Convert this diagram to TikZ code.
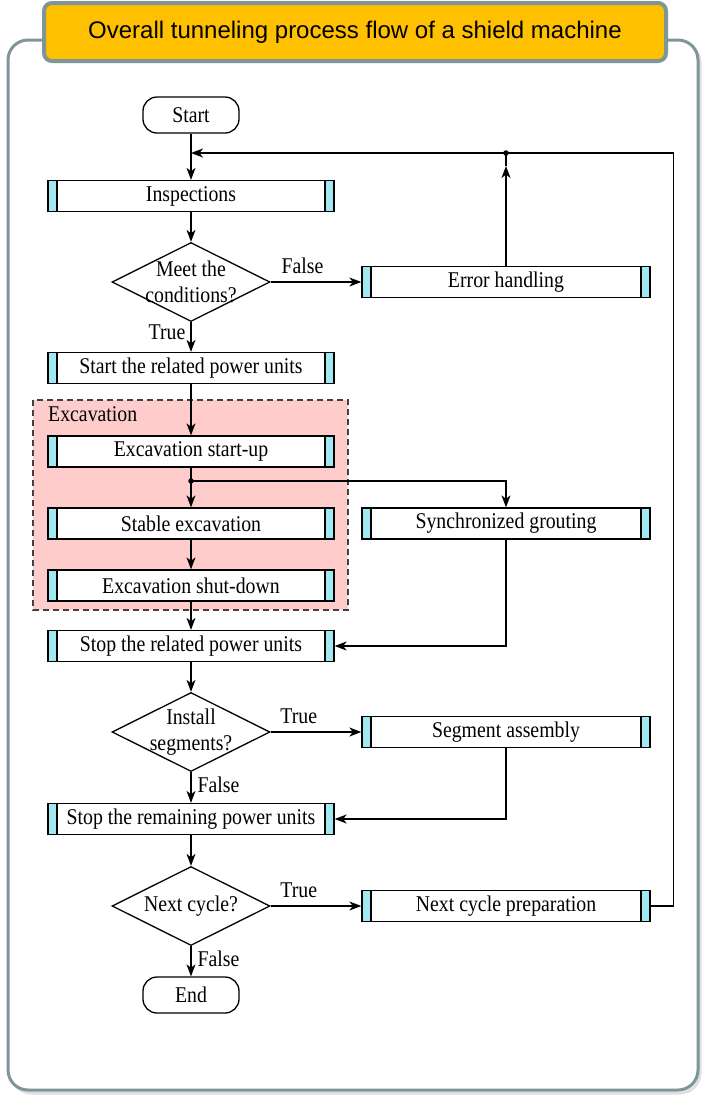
\documentclass[tikz,border=0pt]{standalone}
\usepackage{fontspec}
\setmainfont{Liberation Serif}[FakeStretch=0.88]
\newfontfamily\titlefont{Liberation Sans}
\usetikzlibrary{shapes.geometric,arrows.meta,calc}
\definecolor{framegray}{RGB}{126,150,151}
\definecolor{titleamber}{RGB}{255,192,0}
\definecolor{barcyan}{RGB}{160,232,242}
\definecolor{excpink}{RGB}{255,204,204}
\tikzset{
  txt/.style={font=\fontsize{22.5}{26}\selectfont},
  proc/.style={txt, rectangle, draw, line width=1.3pt, fill=white, inner sep=0pt,
    minimum height=31pt,
    path picture={
      \fill[barcyan] (path picture bounding box.north west) rectangle ([xshift=9pt]path picture bounding box.south west);
      \fill[barcyan] (path picture bounding box.north east) rectangle ([xshift=-9pt]path picture bounding box.south east);
      \draw[line width=1.3pt] ([xshift=9pt]path picture bounding box.north west) -- ([xshift=9pt]path picture bounding box.south west);
      \draw[line width=1.3pt] ([xshift=-9pt]path picture bounding box.north east) -- ([xshift=-9pt]path picture bounding box.south east);
    }},
  mainproc/.style={proc, minimum width=286pt},
  sideproc/.style={proc, minimum width=288pt},
  term/.style={txt, rectangle, rounded corners=14pt, draw, line width=1.3pt, fill=white,
    minimum width=96pt, minimum height=36pt, inner sep=0pt},
  dia/.style={diamond, draw, line width=1.3pt, fill=white, aspect=2, inner sep=0pt,
    minimum width=158pt, minimum height=79pt},
  arr/.style={line width=1.3pt, -{Stealth[length=12pt,width=9pt,inset=3.5pt]}},
  ln/.style={line width=1.3pt},
  lbl/.style={txt, inner sep=0pt},
  jdot/.style={circle, fill=black, inner sep=0pt, minimum size=5.5pt},
}
\begin{document}
\begin{tikzpicture}[x=1pt,y=-1pt]
\useasboundingbox (0,0) rectangle (702,1096);
% outer frame
\draw[rounded corners=20pt, gray!25, line width=3pt] (11,43) rectangle (700,1093);
\draw[rounded corners=20pt, framegray, line width=3pt, fill=white] (8,40) rectangle (698,1090);
% title
\node[draw=framegray, line width=4pt, fill=titleamber, rounded corners=8pt,
  minimum width=622pt, minimum height=58pt, inner sep=0pt,
  font=\titlefont\fontsize{24}{27}\selectfont] (title) at (355,32)
  {Overall tunneling process flow of a shield machine};

% excavation region
\draw[fill=excpink, dashed, dash pattern=on 6pt off 4pt, line width=1.2pt, draw=black!75] (33,400) rectangle (348,610);
\node[lbl, anchor=west] (exlbl) at (48,414) {Excavation};

% nodes
\node[term] (start) at (191,115) {Start};
\node[mainproc] (insp) at (191,196) {Inspections};
\node[dia] (d1) at (191,282) {};
\node[txt, align=center, inner sep=0pt] (d1t) at (191,282) {Meet the\\conditions?};
\node[sideproc] (errh) at (506,282) {Error handling};
\node[mainproc] (startpu) at (191,368) {Start the related power units};
\node[mainproc] (exstart) at (191,451.5) {Excavation start-up};
\node[mainproc] (stable) at (191,523.5) {Stable excavation};
\node[sideproc] (grout) at (506,523.5) {Synchronized grouting};
\node[mainproc] (shut) at (191,585.5) {Excavation shut-down};
\node[mainproc] (stoppu) at (191,646) {Stop the related power units};
\node[dia] (d2) at (191,732) {};
\node[txt, align=center, inner sep=0pt] (d2t) at (191,732) {Install\\segments?};
\node[sideproc] (seg) at (506,732) {Segment assembly};
\node[mainproc] (stoprem) at (191,819) {Stop the remaining power units};
\node[dia] (d3) at (191,906) {};
\node[txt, inner sep=0pt] (d3t) at (191,906) {Next cycle?};
\node[sideproc] (nextp) at (506,906) {Next cycle preparation};
\node[term] (end) at (191,995) {End};

% junctions
\coordinate (jloop) at (191,153);
\node[jdot] (dtop) at (506,153) {};
\node[jdot] (dgr) at (191,481) {};
\coordinate (errmid) at (506,166);

% connectors
\draw[arr] (start) -- (insp);
\draw[arr] (nextp.east) -- ++(23,0) |- (jloop);
\draw[arr] (errh.north) -- (errmid);
\draw[ln] (errmid) -- (dtop.center);
\draw[arr] (insp) -- (d1);
\draw[arr] (d1.east) -- node[lbl, above=8pt, pos=0.35] (lfalse1) {False} (errh.west);
\draw[arr] (d1.south) -- node[lbl, left=5pt, pos=0.35] (ltrue1) {True} (startpu.north);
\draw[arr] (startpu) -- (exstart);
\draw[arr] (exstart) -- (stable);
\draw[arr] (dgr.center) -| (grout.north);
\draw[arr] (stable) -- (shut);
\draw[arr] (shut) -- (stoppu);
\draw[arr] (grout.south) |- (stoppu.east);
\draw[arr] (stoppu) -- (d2);
\draw[arr] (d2.east) -- node[lbl, above=8pt, pos=0.31] (ltrue2) {True} (seg.west);
\draw[arr] (d2.south) -- node[lbl, right=6pt, pos=0.42] (lfalse2) {False} (stoprem.north);
\draw[arr] (seg.south) |- (stoprem.east);
\draw[arr] (stoprem) -- (d3);
\draw[arr] (d3.east) -- node[lbl, above=8pt, pos=0.31] (ltrue3) {True} (nextp.west);
\draw[arr] (d3.south) -- node[lbl, right=6pt, pos=0.42] (lfalse3) {False} (end.north);
\end{tikzpicture}
\end{document}
